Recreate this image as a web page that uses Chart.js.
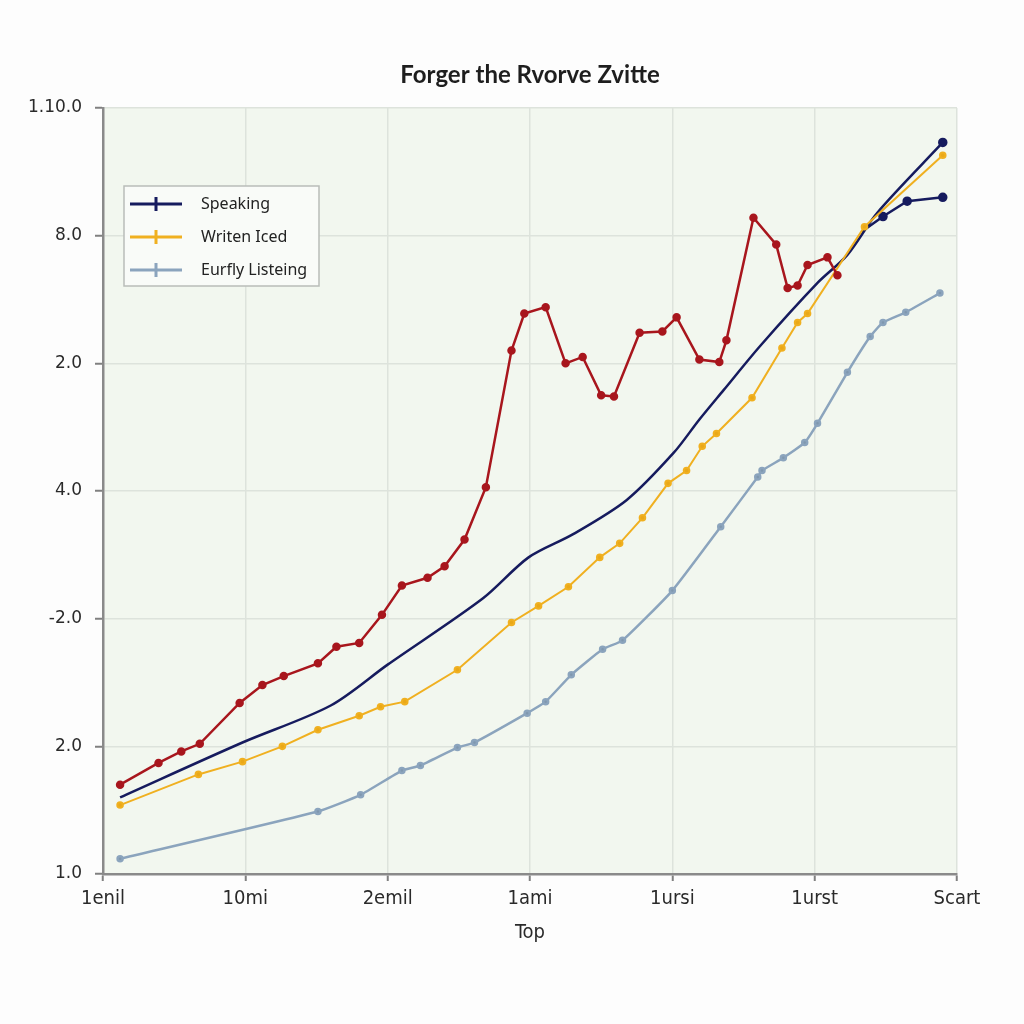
<!DOCTYPE html>
<html>
<head>
<meta charset="utf-8">
<script src="https://cdn.jsdelivr.net/npm/chart.js@4.4.1/dist/chart.umd.min.js"></script>
<style>
  html, body { margin: 0; padding: 0; background: #fdfdfd; }
  #wrap { width: 1024px; height: 1024px; }
</style>
</head>
<body>
<div id="wrap"><canvas id="myChart" width="1024" height="1024"></canvas></div>
<script>
// tick labels as printed on the chart
const xLabels = ["1enil", "10mi", "2emil", "1ami", "1ursi", "1urst", "Scart"];
const yLabels = ["1.0", "2.0", "-2.0", "4.0", "2.0", "8.0", "1.10.0"];
const chartTitle = "Forger the Rvorve Zvitte";
const legendOrder = ["Speaking", "Writen Iced", "Eurfly Listeing"];

// red series (no legend entry)
const redX = [0.12, 0.39, 0.55, 0.68, 0.96, 1.12, 1.27, 1.51, 1.64, 1.80, 1.96, 2.10, 2.28, 2.40, 2.54, 2.69, 2.87, 2.96, 3.11, 3.25, 3.37, 3.50, 3.59, 3.77, 3.93, 4.03, 4.19, 4.33, 4.38, 4.57, 4.73, 4.81, 4.88, 4.95, 5.09, 5.16];
const redY = [0.70, 0.87, 0.96, 1.02, 1.34, 1.48, 1.55, 1.65, 1.78, 1.81, 2.03, 2.26, 2.32, 2.41, 2.62, 3.03, 4.10, 4.39, 4.44, 4.00, 4.05, 3.75, 3.74, 4.24, 4.25, 4.36, 4.03, 4.01, 4.18, 5.14, 4.93, 4.59, 4.61, 4.77, 4.83, 4.69];

// Speaking
const speakX = [0.12, 0.98, 1.60, 2.00, 2.67, 2.99, 3.30, 3.68, 4.01, 4.19, 4.36, 4.62, 5.02, 5.23, 5.44, 5.90];
const speakY = [0.60, 1.03, 1.32, 1.64, 2.16, 2.48, 2.66, 2.93, 3.30, 3.56, 3.79, 4.14, 4.63, 4.85, 5.18, 5.73];
// Speaking, second branch at the right end
const speakBranchX = [5.33, 5.48, 5.65, 5.90];
const speakBranchY = [5.03, 5.15, 5.27, 5.30];

// Writen Iced
const writeX = [0.12, 0.67, 0.98, 1.26, 1.51, 1.80, 1.95, 2.12, 2.49, 2.87, 3.06, 3.27, 3.49, 3.63, 3.79, 3.97, 4.10, 4.21, 4.31, 4.56, 4.77, 4.88, 4.95, 5.35, 5.90];
const writeY = [0.54, 0.78, 0.88, 1.00, 1.13, 1.24, 1.31, 1.35, 1.60, 1.97, 2.10, 2.25, 2.48, 2.59, 2.79, 3.06, 3.16, 3.35, 3.45, 3.73, 4.12, 4.32, 4.39, 5.07, 5.63];

// Eurfly Listeing
const listenX = [0.12, 1.51, 1.81, 2.10, 2.23, 2.49, 2.61, 2.98, 3.11, 3.29, 3.51, 3.65, 4.00, 4.34, 4.60, 4.63, 4.78, 4.93, 5.02, 5.23, 5.39, 5.48, 5.64, 5.88];
const listenY = [0.12, 0.49, 0.62, 0.81, 0.85, 0.99, 1.03, 1.26, 1.35, 1.56, 1.76, 1.83, 2.22, 2.72, 3.11, 3.16, 3.26, 3.38, 3.53, 3.93, 4.21, 4.32, 4.40, 4.55];

function pts(xs, ys) {
  return xs.map((x, i) => ({ x: x, y: ys[i] }));
}

const RED = "#a8161d";
const NAVY = "#161b5e";
const ORANGE = "#f0b020";
const STEEL = "#8ba4bd";

// light green plot background
const plotBg = {
  id: "plotBg",
  beforeDraw(chart) {
    const { ctx, chartArea: a } = chart;
    ctx.save();
    ctx.fillStyle = "#f2f7ef";
    ctx.fillRect(a.left, a.top, a.right - a.left, a.bottom - a.top);
    ctx.restore();
  }
};

// title centred over the plot, not the canvas
const plotTitle = {
  id: "plotTitle",
  afterDraw(chart) {
    const { ctx, chartArea: a } = chart;
    ctx.save();
    ctx.fillStyle = "#1e1e1e";
    ctx.font = "bold 24px Lato";
    ctx.textAlign = "center";
    ctx.textBaseline = "middle";
    ctx.fillText(chartTitle, (a.left + a.right) / 2, 75);
    ctx.restore();
  }
};

// boxed legend sitting inside the plot, line + cross marker per item
const boxLegend = {
  id: "boxLegend",
  afterDraw(chart) {
    const ctx = chart.ctx;
    const items = legendOrder.map(n => chart.data.datasets.find(d => d.label === n));
    ctx.save();
    ctx.fillStyle = "#f9fbf8";
    ctx.strokeStyle = "#b9bdb9";
    ctx.lineWidth = 1.5;
    ctx.fillRect(124, 186, 195, 100);
    ctx.strokeRect(124, 186, 195, 100);
    items.forEach((d, i) => {
      const y = 204 + i * 33;
      ctx.strokeStyle = d.borderColor;
      ctx.lineWidth = 3;
      ctx.beginPath();
      ctx.moveTo(130, y);
      ctx.lineTo(182, y);
      ctx.moveTo(156, y - 7);
      ctx.lineTo(156, y + 7);
      ctx.stroke();
      ctx.fillStyle = "#222";
      ctx.font = "16px 'Noto Sans'";
      ctx.textBaseline = "middle";
      ctx.fillText(d.label, 201, y);
    });
    ctx.restore();
  }
};

const axisFont = "'DejaVu Sans Condensed', 'Roboto Condensed', Roboto, sans-serif";

const ctx = document.getElementById("myChart").getContext("2d");
new Chart(ctx, {
  type: "line",
  data: {
    datasets: [
      {
        label: "Red",
        data: pts(redX, redY),
        borderColor: RED,
        backgroundColor: RED,
        borderWidth: 2.5,
        pointRadius: 3,
        tension: 0
      },
      {
        label: "Eurfly Listeing",
        data: pts(listenX, listenY),
        borderColor: STEEL,
        backgroundColor: "#7f97ae",
        borderWidth: 2.5,
        pointRadius: 2.5,
        tension: 0.15
      },
      {
        label: "Writen Iced",
        data: pts(writeX, writeY),
        borderColor: ORANGE,
        backgroundColor: "#e9a818",
        borderWidth: 2,
        pointRadius: 2.8,
        tension: 0
      },
      {
        label: "Speaking",
        data: pts(speakX, speakY),
        borderColor: NAVY,
        backgroundColor: NAVY,
        borderWidth: 2.5,
        pointRadius: c => (c.dataIndex === speakX.length - 1 ? 3.5 : 0),
        tension: 0.3
      },
      {
        label: "Speaking 2",
        data: pts(speakBranchX, speakBranchY),
        borderColor: NAVY,
        backgroundColor: NAVY,
        borderWidth: 2.5,
        pointRadius: c => (c.dataIndex === 0 ? 0 : 3.5),
        tension: 0
      }
    ]
  },
  options: {
    responsive: false,
    animation: false,
    layout: { padding: { top: 108, right: 67, bottom: 0, left: 0 } },
    plugins: {
      legend: { display: false },
      tooltip: { enabled: false },
      title: { display: false }
    },
    scales: {
      x: {
        type: "linear",
        min: 0,
        max: 6,
        afterFit: s => { s.height = 150; },
        ticks: {
          stepSize: 1,
          padding: 6,
          color: "#2a2a2a",
          font: { family: axisFont, size: 20 },
          callback: v => xLabels[v]
        },
        grid: { color: "#dde3dc", lineWidth: 1.5, tickLength: 7, tickColor: "#808080", tickWidth: 2 },
        border: { color: "#8a8a8a", width: 2.5 },
        title: {
          display: true,
          text: "Top",
          color: "#2a2a2a",
          font: { family: axisFont, size: 20 },
          padding: { top: 0, bottom: 79 }
        }
      },
      y: {
        type: "linear",
        min: 0,
        max: 6,
        afterFit: s => { s.width = 103; },
        ticks: {
          stepSize: 1,
          padding: 13,
          color: "#2a2a2a",
          font: { family: "DejaVu Sans", size: 17 },
          callback: v => yLabels[v]
        },
        grid: { color: "#dde3dc", lineWidth: 1.5, tickLength: 8, tickColor: "#808080", tickWidth: 2 },
        border: { color: "#8a8a8a", width: 2.5 }
      }
    }
  },
  plugins: [plotBg, plotTitle, boxLegend]
});
</script>
</body>
</html>
